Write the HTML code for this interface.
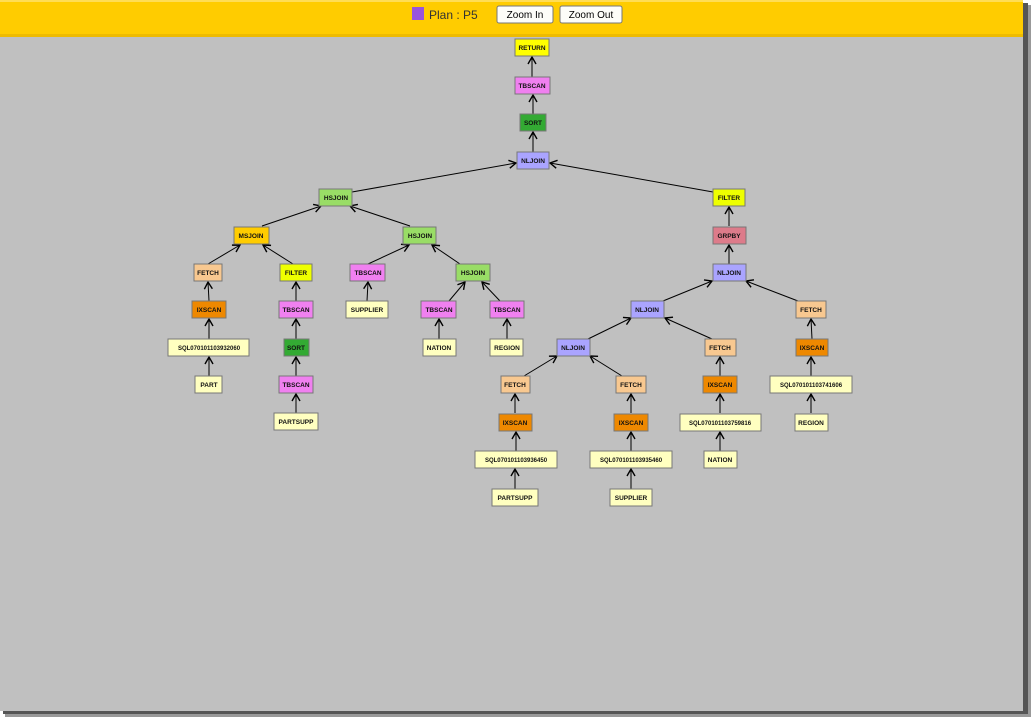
<!DOCTYPE html>
<html><head><meta charset="utf-8"><style>
html,body{margin:0;padding:0;background:#fff;width:1036px;height:724px;overflow:hidden}
svg{display:block}
text{font-family:"Liberation Sans",sans-serif}
</style></head><body>
<svg width="1036" height="724" xmlns="http://www.w3.org/2000/svg">
<defs>
<marker id="a" markerWidth="10" markerHeight="10" refX="8" refY="5" orient="auto" markerUnits="userSpaceOnUse">
<path d="M1,1 L8,5 L1,9" fill="none" stroke="#000" stroke-width="1.4"/>
</marker>
</defs>
<!-- frame shadow -->
<rect x="5" y="5" width="1026" height="712" fill="#999"/>
<rect x="3" y="3" width="1025" height="711" fill="#555"/>
<rect x="0" y="0" width="1023" height="711" fill="#c0c0c0"/>
<rect x="0" y="0" width="1023" height="37" fill="#ffcc00"/>
<rect x="0" y="0" width="1023" height="2" fill="#ffdd55"/>
<rect x="0" y="34" width="1023" height="3" fill="#eebb00"/>
<rect x="412" y="7" width="12" height="13" fill="#9955dd"/>
<text x="429" y="19" font-size="12" fill="#333">Plan : P5</text>
<rect x="497" y="6" width="56" height="17" rx="2" fill="#fdfdf8" stroke="#777"/>
<text x="525" y="18" font-size="10" text-anchor="middle" fill="#000">Zoom In</text>
<rect x="560" y="6" width="62" height="17" rx="2" fill="#fdfdf8" stroke="#777"/>
<text x="591" y="18" font-size="10" text-anchor="middle" fill="#000">Zoom Out</text>

<g stroke="#000" stroke-width="1" marker-end="url(#a)">
<line x1="532" y1="77" x2="532" y2="57"/>
<line x1="533" y1="114" x2="533" y2="95"/>
<line x1="533" y1="152" x2="533" y2="132"/>
<line x1="352" y1="192" x2="516" y2="163"/>
<line x1="713" y1="192" x2="550" y2="163"/>
<line x1="262" y1="226" x2="321" y2="206"/>
<line x1="410" y1="226" x2="350" y2="206"/>
<line x1="729" y1="226" x2="729" y2="207"/>
<line x1="208" y1="264" x2="240" y2="245"/>
<line x1="293" y1="264" x2="263" y2="245"/>
<line x1="368" y1="264" x2="409" y2="245"/>
<line x1="460" y1="264" x2="432" y2="245"/>
<line x1="729" y1="264" x2="729" y2="245"/>
<line x1="209" y1="301" x2="208" y2="282"/>
<line x1="296" y1="301" x2="296" y2="282"/>
<line x1="367" y1="301" x2="368" y2="282"/>
<line x1="449" y1="301" x2="465" y2="282"/>
<line x1="500" y1="301" x2="482" y2="282"/>
<line x1="663" y1="301" x2="712" y2="281"/>
<line x1="798" y1="301" x2="746" y2="281"/>
<line x1="209" y1="339" x2="209" y2="319"/>
<line x1="296" y1="339" x2="296" y2="319"/>
<line x1="439" y1="339" x2="439" y2="319"/>
<line x1="507" y1="339" x2="507" y2="319"/>
<line x1="588" y1="339" x2="631" y2="318"/>
<line x1="712" y1="339" x2="665" y2="318"/>
<line x1="812" y1="339" x2="811" y2="319"/>
<line x1="209" y1="376" x2="209" y2="357"/>
<line x1="296" y1="376" x2="296" y2="357"/>
<line x1="524" y1="376" x2="557" y2="356"/>
<line x1="622" y1="376" x2="590" y2="356"/>
<line x1="720" y1="376" x2="720" y2="357"/>
<line x1="811" y1="376" x2="811" y2="357"/>
<line x1="296" y1="413" x2="296" y2="394"/>
<line x1="515" y1="413" x2="515" y2="394"/>
<line x1="631" y1="413" x2="631" y2="394"/>
<line x1="720" y1="413" x2="720" y2="394"/>
<line x1="811" y1="413" x2="811" y2="394"/>
<line x1="516" y1="451" x2="516" y2="432"/>
<line x1="631" y1="451" x2="631" y2="432"/>
<line x1="720" y1="451" x2="720" y2="432"/>
<line x1="515" y1="489" x2="515" y2="469"/>
<line x1="631" y1="489" x2="631" y2="469"/>
</g>

<g stroke="#777" stroke-width="1">
<rect x="515" y="39" width="34" height="17" fill="#ffff00"/>
<rect x="515" y="77" width="35" height="17" fill="#f080f0"/>
<rect x="520" y="114" width="26" height="17" fill="#33aa33"/>
<rect x="517" y="152" width="32" height="17" fill="#aaa4ff"/>
<rect x="319" y="189" width="33" height="17" fill="#99dd66"/>
<rect x="713" y="189" width="32" height="17" fill="#eeff00"/>
<rect x="234" y="227" width="35" height="17" fill="#ffcc00"/>
<rect x="403" y="227" width="33" height="17" fill="#99dd66"/>
<rect x="713" y="227" width="33" height="17" fill="#dd7b8a"/>
<rect x="194" y="264" width="28" height="17" fill="#f8c890"/>
<rect x="280" y="264" width="32" height="17" fill="#eeff00"/>
<rect x="350" y="264" width="35" height="17" fill="#f080f0"/>
<rect x="456" y="264" width="34" height="17" fill="#99dd66"/>
<rect x="713" y="264" width="33" height="17" fill="#aaa4ff"/>
<rect x="192" y="301" width="34" height="17" fill="#ee8800"/>
<rect x="279" y="301" width="34" height="17" fill="#f080f0"/>
<rect x="346" y="301" width="42" height="17" fill="#ffffc0"/>
<rect x="421" y="301" width="35" height="17" fill="#f080f0"/>
<rect x="490" y="301" width="34" height="17" fill="#f080f0"/>
<rect x="631" y="301" width="33" height="17" fill="#aaa4ff"/>
<rect x="796" y="301" width="30" height="17" fill="#f8c890"/>
<rect x="168" y="339" width="81" height="17" fill="#ffffc0"/>
<rect x="284" y="339" width="25" height="17" fill="#33aa33"/>
<rect x="423" y="339" width="33" height="17" fill="#ffffc0"/>
<rect x="490" y="339" width="33" height="17" fill="#ffffc0"/>
<rect x="557" y="339" width="33" height="17" fill="#aaa4ff"/>
<rect x="705" y="339" width="31" height="17" fill="#f8c890"/>
<rect x="796" y="339" width="32" height="17" fill="#ee8800"/>
<rect x="195" y="376" width="27" height="17" fill="#ffffc0"/>
<rect x="279" y="376" width="34" height="17" fill="#f080f0"/>
<rect x="501" y="376" width="29" height="17" fill="#f8c890"/>
<rect x="616" y="376" width="30" height="17" fill="#f8c890"/>
<rect x="703" y="376" width="34" height="17" fill="#ee8800"/>
<rect x="770" y="376" width="82" height="17" fill="#ffffc0"/>
<rect x="274" y="413" width="44" height="17" fill="#ffffc0"/>
<rect x="499" y="414" width="33" height="17" fill="#ee8800"/>
<rect x="614" y="414" width="34" height="17" fill="#ee8800"/>
<rect x="680" y="414" width="81" height="17" fill="#ffffc0"/>
<rect x="795" y="414" width="33" height="17" fill="#ffffc0"/>
<rect x="475" y="451" width="82" height="17" fill="#ffffc0"/>
<rect x="590" y="451" width="82" height="17" fill="#ffffc0"/>
<rect x="704" y="451" width="33" height="17" fill="#ffffc0"/>
<rect x="492" y="489" width="46" height="17" fill="#ffffc0"/>
<rect x="610" y="489" width="42" height="17" fill="#ffffc0"/>
</g>

<g font-size="6.5" font-weight="bold" text-anchor="middle" fill="#111">
<text x="532" y="50">RETURN</text>
<text x="532" y="88">TBSCAN</text>
<text x="533" y="125">SORT</text>
<text x="533" y="163">NLJOIN</text>
<text x="336" y="200">HSJOIN</text>
<text x="729" y="200">FILTER</text>
<text x="251" y="238">MSJOIN</text>
<text x="420" y="238">HSJOIN</text>
<text x="729" y="238">GRPBY</text>
<text x="208" y="275">FETCH</text>
<text x="296" y="275">FILTER</text>
<text x="368" y="275">TBSCAN</text>
<text x="473" y="275">HSJOIN</text>
<text x="729" y="275">NLJOIN</text>
<text x="209" y="312">IXSCAN</text>
<text x="296" y="312">TBSCAN</text>
<text x="367" y="312">SUPPLIER</text>
<text x="439" y="312">TBSCAN</text>
<text x="507" y="312">TBSCAN</text>
<text x="647" y="312">NLJOIN</text>
<text x="811" y="312">FETCH</text>
<text x="209" y="350" font-size="6">SQL070101103932060</text>
<text x="296" y="350">SORT</text>
<text x="439" y="350">NATION</text>
<text x="507" y="350">REGION</text>
<text x="573" y="350">NLJOIN</text>
<text x="720" y="350">FETCH</text>
<text x="812" y="350">IXSCAN</text>
<text x="209" y="387">PART</text>
<text x="296" y="387">TBSCAN</text>
<text x="515" y="387">FETCH</text>
<text x="631" y="387">FETCH</text>
<text x="720" y="387">IXSCAN</text>
<text x="811" y="387" font-size="6">SQL070101103741606</text>
<text x="296" y="424">PARTSUPP</text>
<text x="515" y="425">IXSCAN</text>
<text x="631" y="425">IXSCAN</text>
<text x="720" y="425" font-size="6">SQL070101103759816</text>
<text x="811" y="425">REGION</text>
<text x="516" y="462" font-size="6">SQL070101103936450</text>
<text x="631" y="462" font-size="6">SQL070101103935460</text>
<text x="720" y="462">NATION</text>
<text x="515" y="500">PARTSUPP</text>
<text x="631" y="500">SUPPLIER</text>
</g>
</svg>
</body></html>
